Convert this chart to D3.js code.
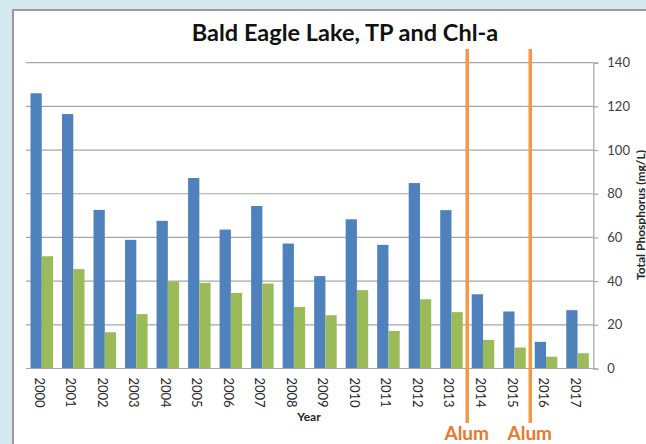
<!DOCTYPE html>
<html><head><meta charset="utf-8">
<script src="https://cdn.jsdelivr.net/npm/d3@7"></script>
<style>
html,body{margin:0;padding:0;background:#d5e9f1;}
svg{display:block;font-family:Lato, "Open Sans", sans-serif;}
</style></head>
<body>
<svg id="c" width="646" height="444"></svg>
<script>
const years = ["2000","2001","2002","2003","2004","2005","2006","2007","2008","2009","2010","2011","2012","2013","2014","2015","2016","2017"];
const tp = [126,116.5,72.6,58.9,67.6,87.2,63.6,74.4,57.2,42.3,68.3,56.6,84.9,72.5,34,26.1,12.2,26.7];
const chla = [51.4,45.5,16.6,24.9,39.8,39.2,34.6,38.9,28.2,24.4,35.9,17.2,31.7,25.8,13.1,9.6,5.4,7.0];
const yTicks = [0,20,40,60,80,100,120,140];
const alumAfter = ["2013","2015"];

const svg = d3.select("#c");
// panel
svg.append("rect").attr("x",13).attr("y",10).attr("width",640).attr("height",440)
  .attr("fill","#fff").attr("stroke","#9a9a9a").attr("stroke-width",2);

const x0 = 26, x1 = 593.3, yb = 368.5, yt = 62.7;
const x = d3.scaleBand().domain(years).range([x0,x1]).paddingInner(0).paddingOuter(0);
const sub = d3.scaleBand().domain(["tp","chla"]).range([0, x.bandwidth()]).paddingInner(0).paddingOuter(0.4);
const y = d3.scaleLinear().domain([0,140]).range([yb,yt]);

// gridlines
svg.append("g").selectAll("line").data(yTicks.filter(d=>d>0)).join("line")
  .attr("x1",x0).attr("x2",x1).attr("y1",d=>y(d)).attr("y2",d=>y(d))
  .attr("stroke","#a6a6a6").attr("stroke-width",1.2);

// bars
const g = svg.append("g");
g.selectAll(".b").data(years).join("rect")
  .attr("x",d=>x(d)+sub("tp")).attr("width",sub.bandwidth())
  .attr("y",(d,i)=>y(tp[i])).attr("height",(d,i)=>yb-y(tp[i])).attr("fill","#4f81bd");
g.selectAll(".g").data(years).join("rect")
  .attr("x",d=>x(d)+sub("chla")).attr("width",sub.bandwidth())
  .attr("y",(d,i)=>y(chla[i])).attr("height",(d,i)=>yb-y(chla[i])).attr("fill","#9bbb59");

// baseline
svg.append("line").attr("x1",x0).attr("x2",x1).attr("y1",yb).attr("y2",yb).attr("stroke","#a6a6a6").attr("stroke-width",1.2);

// right axis
const ax = svg.append("g").attr("transform",`translate(${x1},0)`)
  .call(d3.axisRight(y).tickValues(yTicks).tickSize(5).tickPadding(9));
ax.select(".domain").attr("stroke","#a6a6a6").attr("stroke-width",1.2);
ax.selectAll(".tick line").attr("stroke","#a6a6a6").attr("stroke-width",1.2);
ax.selectAll("text").attr("font-size",13).attr("fill","#404040").attr("font-family","Lato, sans-serif");

// x labels
svg.append("g").selectAll("text").data(years).join("text")
  .attr("transform",d=>`translate(${x(d)+x.bandwidth()/2-2},${yb+9}) rotate(90)`)
  .attr("font-size",13).attr("fill","#262626").attr("dominant-baseline","central")
  .text(d=>d);

// axis titles
svg.append("text").attr("x",309).attr("y",421).attr("text-anchor","middle")
  .attr("font-size",12).attr("font-weight","bold").attr("fill","#262626").text("Year");
svg.append("text").attr("transform","translate(640,215) rotate(-90)").attr("text-anchor","middle")
  .attr("font-size",12).attr("font-weight","bold").attr("fill","#262626").attr("dominant-baseline","central")
  .text("Total Phosphorus (mg/L)");

// title
svg.append("text").attr("x",345).attr("y",41).attr("text-anchor","middle")
  .attr("font-size",23.5).attr("font-weight","bold").attr("fill","#111").text("Bald Eagle Lake, TP and Chl-a");

// alum lines
alumAfter.forEach(yr=>{
  const xp = x(yr)+x.bandwidth();
  svg.append("line").attr("x1",xp).attr("x2",xp).attr("y1",49).attr("y2",423)
    .attr("stroke","#f79646").attr("stroke-width",3.5);
  svg.append("text").attr("x",xp-0.5).attr("y",440).attr("text-anchor","middle")
    .attr("font-size",19).attr("font-weight","bold").attr("fill","#e8782a").text("Alum");
});
</script>
</body></html>
